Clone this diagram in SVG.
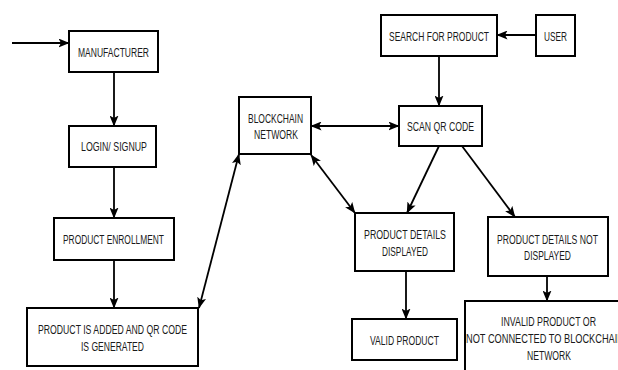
<svg xmlns="http://www.w3.org/2000/svg" width="618" height="370" viewBox="0 0 618 370">
<style>
.box{fill:#fff;stroke:#000;stroke-width:2}
.t{font-family:"Liberation Sans",Arial,sans-serif;font-size:12.5px;fill:#1a1a1a;text-anchor:middle}
.ts{font-family:"Liberation Sans",Arial,sans-serif;font-size:12.5px;fill:#1a1a1a}
.c{stroke:#000;stroke-width:1.8;fill:none;marker-end:url(#ah)}
.d{marker-start:url(#ahs)}
</style>
<defs>
<marker id="ah" viewBox="0 0 11 9" refX="10.5" refY="4.5" markerWidth="11" markerHeight="9" markerUnits="userSpaceOnUse" orient="auto">
<path d="M0,0 L11,4.5 L0,9 L2.5,4.5 z" fill="#000"/>
</marker>
<marker id="ahs" viewBox="0 0 11 9" refX="0.5" refY="4.5" markerWidth="11" markerHeight="9" markerUnits="userSpaceOnUse" orient="auto">
<path d="M11,0 L0,4.5 L11,9 L8.5,4.5 z" fill="#000"/>
</marker>
</defs>
<rect width="618" height="370" fill="#fff"/>
<g id="connectors">
<line class="c" x1="12" y1="43" x2="69" y2="43"/>
<line class="c" x1="114" y1="72" x2="114" y2="126"/>
<line class="c" x1="114" y1="167" x2="114" y2="218"/>
<line class="c" x1="114" y1="260" x2="114" y2="308"/>
<line class="c d" x1="239" y1="154" x2="199" y2="308"/>
<line class="c" x1="536" y1="35" x2="497" y2="35"/>
<line class="c" x1="439" y1="56" x2="439" y2="106"/>
<line class="c d" x1="311" y1="126" x2="399" y2="126"/>
<line class="c d" x1="311" y1="155" x2="355" y2="213"/>
<line class="c" x1="439" y1="146" x2="407" y2="213"/>
<line class="c" x1="462" y1="146" x2="515" y2="217"/>
<line class="c" x1="406" y1="271" x2="406" y2="319"/>
<line class="c" x1="547" y1="276" x2="547" y2="301"/>
</g>
<g id="manufacturer"><rect class="box" x="69" y="31" width="89" height="41"/><text class="t" x="113.5" y="57" textLength="71" lengthAdjust="spacingAndGlyphs">MANUFACTURER</text></g>
<g id="login"><rect class="box" x="69" y="126" width="87" height="41"/><text class="t" x="114" y="151" textLength="66" lengthAdjust="spacingAndGlyphs">LOGIN/ SIGNUP</text></g>
<g id="enrollment"><rect class="box" x="54" y="218" width="120" height="42"/><text class="t" x="113.5" y="244" textLength="101" lengthAdjust="spacingAndGlyphs">PRODUCT ENROLLMENT</text></g>
<g id="added"><rect class="box" x="27" y="308" width="171" height="58"/><text class="t" x="112.5" y="334" textLength="149" lengthAdjust="spacingAndGlyphs">PRODUCT IS ADDED AND QR CODE</text><text class="t" x="112.5" y="351" textLength="63" lengthAdjust="spacingAndGlyphs">IS GENERATED</text></g>
<g id="blockchain"><rect class="box" x="239" y="97" width="72" height="57"/><text class="t" x="275.5" y="123" textLength="55" lengthAdjust="spacingAndGlyphs">BLOCKCHAIN</text><text class="t" x="276" y="139" textLength="44" lengthAdjust="spacingAndGlyphs">NETWORK</text></g>
<g id="search"><rect class="box" x="381" y="15" width="116" height="41"/><text class="t" x="439" y="41" textLength="100" lengthAdjust="spacingAndGlyphs">SEARCH FOR PRODUCT</text></g>
<g id="user"><rect class="box" x="536" y="15" width="39" height="41"/><text class="t" x="555.5" y="41" textLength="23" lengthAdjust="spacingAndGlyphs">USER</text></g>
<g id="scan"><rect class="box" x="399" y="106" width="83" height="40"/><text class="t" x="440.5" y="131" textLength="67" lengthAdjust="spacingAndGlyphs">SCAN QR CODE</text></g>
<g id="displayed"><rect class="box" x="355" y="213" width="99" height="58"/><text class="t" x="405" y="239" textLength="82" lengthAdjust="spacingAndGlyphs">PRODUCT DETAILS</text><text class="t" x="405" y="256" textLength="46" lengthAdjust="spacingAndGlyphs">DISPLAYED</text></g>
<g id="notdisplayed"><rect class="box" x="488" y="217" width="120" height="59"/><text class="t" x="547.5" y="244" textLength="101" lengthAdjust="spacingAndGlyphs">PRODUCT DETAILS NOT</text><text class="t" x="547.5" y="260" textLength="47" lengthAdjust="spacingAndGlyphs">DISPLAYED</text></g>
<g id="valid"><rect class="box" x="352" y="319" width="105" height="41"/><text class="t" x="404.5" y="345" textLength="69" lengthAdjust="spacingAndGlyphs">VALID PRODUCT</text></g>
<g id="invalid"><rect class="box" x="465" y="301" width="170" height="80"/><text class="t" x="548.5" y="326" textLength="95" lengthAdjust="spacingAndGlyphs">INVALID PRODUCT OR</text><text class="ts" x="466" y="343" textLength="158" lengthAdjust="spacingAndGlyphs">NOT CONNECTED TO BLOCKCHAIN</text><text class="t" x="549" y="360" textLength="44" lengthAdjust="spacingAndGlyphs">NETWORK</text></g>
</svg>
